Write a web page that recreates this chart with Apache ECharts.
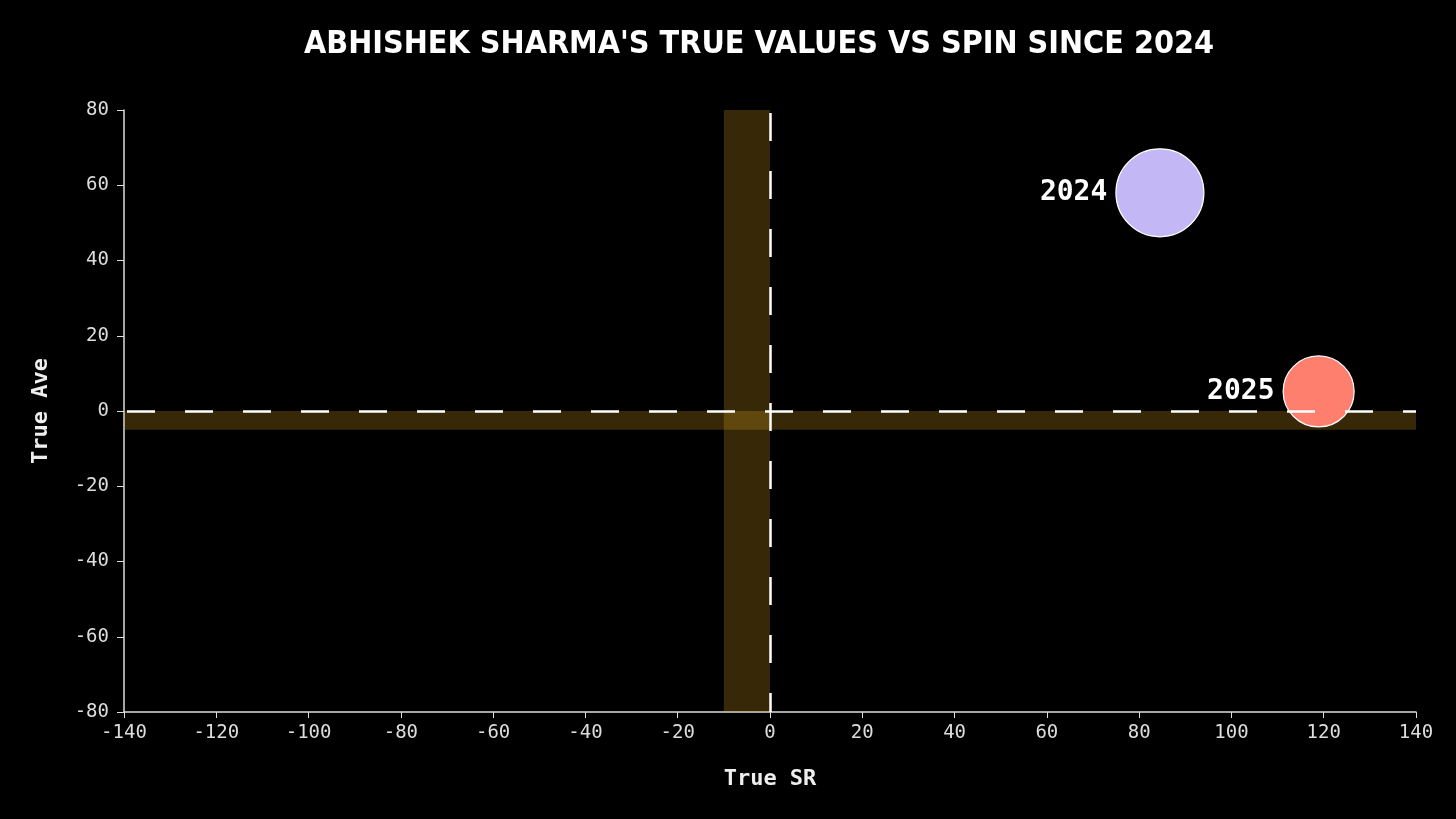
<!DOCTYPE html>
<html>
<head>
<meta charset="utf-8">
<script src="https://cdn.jsdelivr.net/npm/echarts@6/dist/echarts.min.js"></script>
<style>
html,body{margin:0;padding:0;background:#000;}
#chart{width:1456px;height:819px;}
</style>
</head>
<body>
<div id="chart"></div>
<script>
const titleText = "ABHISHEK SHARMA'S TRUE VALUES VS SPIN SINCE 2024";
const seasons = ["2024", "2025"];
const trueSR = [84.5, 118.9];
const trueAve = [58.0, 5.2];
const bubbleMagnitude = [88, 71];
const bubbleColors = ["#c4b7f5", "#ff7f6e"];
const xTicks = [-140, 140, 20];
const yTicks = [-80, 80, 20];
const srBand = [-10, 0];
const aveBand = [-5, 0];

const mono = "'DejaVu Sans Mono', monospace";
const chart = echarts.init(document.getElementById('chart'));

const bubbleData = seasons.map((s, i) => ({
  name: s,
  value: [trueSR[i], trueAve[i], bubbleMagnitude[i]],
  itemStyle: { color: bubbleColors[i] }
}));

chart.setOption({
  backgroundColor: '#000',
  animation: false,
  title: {
    text: titleText,
    left: 754, textAlign: 'center', top: 24,
    textStyle: {
      color: '#fff', fontFamily: "'Liberation Sans Narrow', 'DejaVu Sans Condensed', sans-serif",
      fontWeight: 'bold', fontSize: 32
    }
  },
  grid: { left: 124, right: 40, top: 110, bottom: 107 },
  xAxis: {
    type: 'value', min: xTicks[0], max: xTicks[1], interval: xTicks[2],
    name: 'True SR', nameLocation: 'middle', nameGap: 56,
    nameTextStyle: { color: '#eee', fontFamily: mono, fontWeight: 'bold', fontSize: 22 },
    axisLine: { show: true, onZero: false, lineStyle: { color: '#ddd', width: 1.5 } },
    axisTick: { show: true, length: 6, lineStyle: { color: '#ddd' } },
    axisLabel: { color: '#ddd', fontFamily: mono, fontSize: 19, margin: 12 },
    splitLine: { show: false }
  },
  yAxis: {
    type: 'value', min: yTicks[0], max: yTicks[1], interval: yTicks[2],
    name: 'True Ave', nameLocation: 'middle', nameGap: 72, nameRotate: 90,
    nameTextStyle: { color: '#eee', fontFamily: mono, fontWeight: 'bold', fontSize: 22 },
    axisLine: { show: true, onZero: false, lineStyle: { color: '#ddd', width: 1.5 } },
    axisTick: { show: true, length: 7, lineStyle: { color: '#ddd' } },
    axisLabel: { color: '#ddd', fontFamily: mono, fontSize: 19, margin: 15 },
    splitLine: { show: false }
  },
  series: [
    {
      type: 'scatter', z: 2,
      data: bubbleData,
      symbolSize: d => d[2],
      itemStyle: { borderColor: '#fff', borderWidth: 1.2, opacity: 1 },
      label: {
        show: true, position: 'left', distance: 8,
        formatter: p => p.name,
        color: '#fff', fontFamily: mono, fontWeight: 'bold', fontSize: 28
      }
    },
    {
      type: 'scatter', z: 5, data: [], silent: true,
      markArea: {
        silent: true,
        itemStyle: { color: 'rgba(218,165,32,0.25)' },
        data: [
          [{ xAxis: srBand[0], yAxis: yTicks[0] }, { xAxis: srBand[1], yAxis: yTicks[1] }],
          [{ xAxis: xTicks[0], yAxis: aveBand[0] }, { xAxis: xTicks[1], yAxis: aveBand[1] }]
        ]
      },
      markLine: {
        silent: true, symbol: 'none',
        label: { show: false },
        lineStyle: { color: '#fff', width: 2.5, type: [28, 30], dashOffset: -3 },
        data: [
          [{ coord: [0, yTicks[1]] }, { coord: [0, yTicks[0]] }],
          [{ coord: [xTicks[0], 0] }, { coord: [xTicks[1], 0] }]
        ]
      }
    }
  ]
});
</script>
</body>
</html>
